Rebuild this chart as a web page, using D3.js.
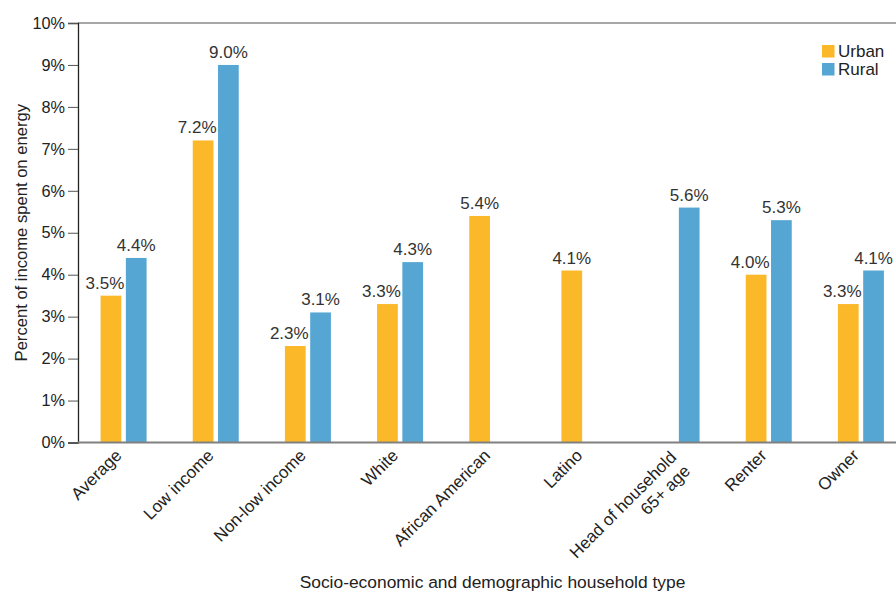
<!DOCTYPE html>
<html>
<head>
<meta charset="utf-8">
<script src="https://cdn.jsdelivr.net/npm/d3@7"></script>
<style>
  body { margin: 0; background: #fff; }
  svg { display: block; font-family: "Liberation Sans", Arial, Helvetica, sans-serif; }
</style>
</head>
<body>
<svg width="896" height="592"></svg>
<script>
// categories and values (percent of income spent on energy)
var categories = ["Average", "Low income", "Non-low income", "White", "African American",
                  "Latino", "Head of household\n65+ age", "Renter", "Owner"];
var series = ["Urban", "Rural"];
var urban = [3.5, 7.2, 2.3, 3.3, 5.4, 4.1, null, 4.0, 3.3];
var rural = [4.4, 9.0, 3.1, 4.3, null, null, 5.6, 5.3, 4.1];
var yTicks = [0, 1, 2, 3, 4, 5, 6, 7, 8, 9, 10];
var colors = {Urban: "#fbb828", Rural: "#56a6d4"};

var svg = d3.select("svg"),
    axisX = 78,
    y0 = 442.5, y1 = 23;

var x0 = d3.scaleBand().domain(categories).range([77.5, 907]).padding(0);
var x1 = d3.scaleBand().domain(series).range([-23, 23]).paddingInner(0.18);
var y = d3.scaleLinear().domain([0, 10]).range([y0, y1]);

var data = categories.map(function(c, i) {
  return {cat: c, Urban: urban[i], Rural: rural[i]};
});

// top frame line at 10%
svg.append("line")
    .attr("x1", axisX).attr("x2", 896)
    .attr("y1", y(10)).attr("y2", y(10))
    .style("stroke", "#8a8a8a").style("stroke-width", 1.5);

// y axis
var yAxis = svg.append("g")
    .attr("transform", "translate(" + axisX + ",0)")
    .attr("font-family", null)
    .call(d3.axisLeft(y).tickValues(yTicks).tickSize(10).tickPadding(3)
      .tickFormat(function(d) { return d + "%"; }));
yAxis.attr("font-family", null).attr("font-size", null);
yAxis.select(".domain").attr("stroke", "#222").attr("stroke-width", 1.3);
yAxis.selectAll(".tick line").attr("stroke", "#555").attr("stroke-width", 1);
yAxis.selectAll(".tick text")
    .style("font-size", "16.3px")
    .attr("fill", "#222");

// bars
var groups = svg.selectAll(".grp")
  .data(data)
  .enter().append("g")
    .attr("class", "grp")
    .attr("transform", function(d) { return "translate(" + (x0(d.cat) + x0.bandwidth() / 2) + ",0)"; });

groups.selectAll("rect")
  .data(function(d) { return series.filter(function(s) { return d[s] != null; }).map(function(s) { return {key: s, value: d[s]}; }); })
  .enter().append("rect")
    .attr("x", function(d) { return x1(d.key); })
    .attr("y", function(d) { return y(d.value); })
    .attr("width", x1.bandwidth())
    .attr("height", function(d) { return y0 - y(d.value); })
    .attr("fill", function(d) { return colors[d.key]; });

// value labels
groups.each(function(d) {
  var g = d3.select(this);
  var both = d.Urban != null && d.Rural != null;
  series.forEach(function(s) {
    if (d[s] == null) return;
    var shift = (both && s === "Urban") ? -6 : 0;
    g.append("text")
        .attr("x", x1(s) + x1.bandwidth() / 2 + shift)
        .attr("y", y(d[s]) - 7)
        .attr("text-anchor", "middle")
        .style("font-size", "17px")
        .attr("fill", "#333")
        .text(d[s].toFixed(1) + "%");
  });
});

// baseline
svg.append("line")
    .attr("x1", axisX).attr("x2", 896)
    .attr("y1", y0).attr("y2", y0)
    .style("stroke", "#808080").style("stroke-width", 2);

// category labels, rotated
var labels = svg.selectAll(".cat")
  .data(categories)
  .enter().append("text")
    .attr("class", "cat")
    .attr("text-anchor", "end")
    .attr("transform", function(d) {
      return "translate(" + (x0(d) + x0.bandwidth() / 2 - 1) + "," + (y0 + 14) + ") rotate(-45)";
    })
    .style("font-size", "17px")
    .attr("fill", "#222");

labels.each(function(d) {
  var lines = d.split("\n");
  var t = d3.select(this);
  lines.forEach(function(l, i) {
    t.append("tspan")
        .attr("x", 0)
        .attr("dy", i === 0 ? (lines.length > 1 ? "0.15em" : 0) : "1.15em")
        .text(l);
  });
});

// axis titles
svg.append("text")
    .attr("transform", "translate(27," + ((y0 + y1) / 2) + ") rotate(-90)")
    .attr("text-anchor", "middle")
    .style("font-size", "16.6px")
    .attr("fill", "#222")
    .text("Percent of income spent on energy");

svg.append("text")
    .attr("x", 492.5)
    .attr("y", 588)
    .attr("text-anchor", "middle")
    .style("font-size", "17.4px")
    .attr("fill", "#222")
    .text("Socio-economic and demographic household type");

// legend
var legend = svg.selectAll(".leg")
  .data(series)
  .enter().append("g")
    .attr("class", "leg")
    .attr("transform", function(d, i) { return "translate(822," + (45 + i * 18) + ")"; });

legend.append("rect")
    .attr("width", 12.5).attr("height", 12.5)
    .attr("fill", function(d) { return colors[d]; });

legend.append("text")
    .attr("x", 16)
    .attr("y", 12)
    .style("font-size", "17px")
    .attr("fill", "#222")
    .text(function(d) { return d; });
</script>
</body>
</html>
